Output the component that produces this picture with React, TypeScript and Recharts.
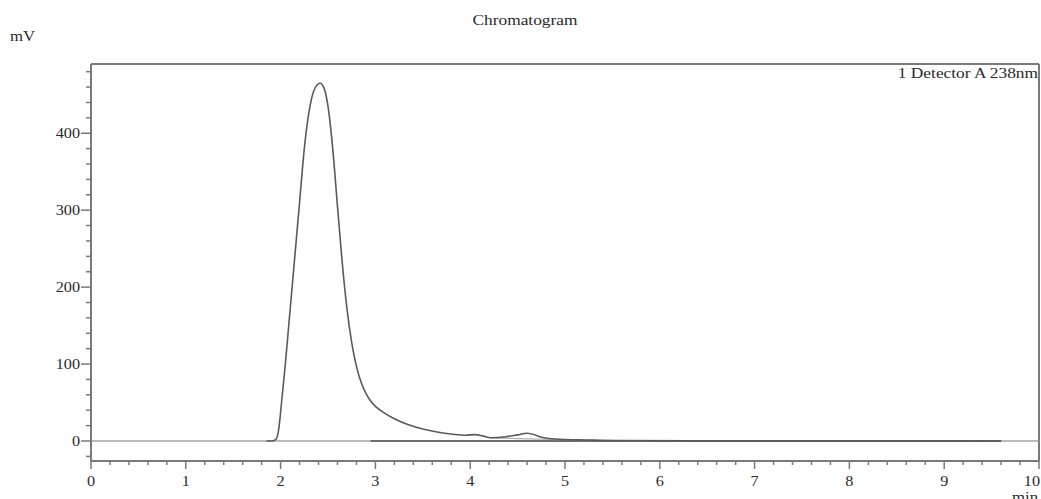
import React from "react";
import { Customized, Line, LineChart, ReferenceLine, XAxis, YAxis } from "recharts";

// Chromatogram trace (detector A, 238 nm): retention time in min, signal in mV.
const TIME = [
  1.85, 1.92, 1.95, 1.98, 2.01, 2.05, 2.1, 2.15, 2.2, 2.25, 2.3, 2.35, 2.415,
  2.46, 2.5, 2.55, 2.6, 2.65, 2.7, 2.75, 2.8, 2.85, 2.9, 2.95, 3.0, 3.1, 3.2,
  3.35, 3.5, 3.68, 3.82, 3.95, 4.05, 4.15, 4.21, 4.38, 4.5, 4.6, 4.68, 4.74,
  4.95, 5.23, 5.58, 6.5, 9.6,
];
const SIGNAL = [
  0, 0.3, 2, 15, 50, 100, 170, 240, 310, 380, 428, 455, 465,
  458, 435, 380, 305, 232, 172, 128, 97, 76, 62, 52, 45, 36, 29,
  21, 15.5, 11, 8.7, 7.5, 8.3, 6, 4.3, 5.6, 8, 10, 8, 5.2,
  2.2, 1.3, 0.5, 0.2, 0,
];

// Integration baselines drawn under the peaks.
const BASE_TIME = [2.95, 9.6];
const BASE_SIGNAL = [0, 0];
const PEAK2_BASE_TIME = [4.21, 4.95];
const PEAK2_BASE_SIGNAL = [4.0, 1.8];

const X_LABELS = [0, 1, 2, 3, 4, 5, 6, 7, 8, 9, 10];
const X_TICKS = Array.from({ length: 51 }, (_, i) => +(i * 0.2).toFixed(1));
const Y_LABELS = [0, 100, 200, 300, 400];
const Y_TICKS = Array.from({ length: 26 }, (_, i) => -20 + i * 20);

const X_DOMAIN: [number, number] = [0, 10];
const Y_DOMAIN: [number, number] = [-26, 490];

const trace = TIME.map((t, i) => ({ t, mv: SIGNAL[i] }));
const baseline = BASE_TIME.map((t, i) => ({ t, mv: BASE_SIGNAL[i] }));
const peak2Base = PEAK2_BASE_TIME.map((t, i) => ({ t, mv: PEAK2_BASE_SIGNAL[i] }));

const FONT = '"Liberation Serif", "Times New Roman", serif';
const INK = "#2a2a2a";
const AXIS = "#7a7a7a";
const STRETCH = 1.12;

function SerifText({
  x,
  y,
  size,
  anchor = "start",
  children,
}: {
  x: number;
  y: number;
  size: number;
  anchor?: "start" | "middle" | "end";
  children: React.ReactNode;
}) {
  return (
    <text
      transform={`translate(${x} ${y}) scale(${STRETCH} 1)`}
      fontFamily={FONT}
      fontSize={size}
      textAnchor={anchor}
      fill={INK}
    >
      {children}
    </text>
  );
}

function XTick(props: any) {
  const { x, y, payload } = props;
  const v = payload.value as number;
  const major = X_LABELS.some((m) => Math.abs(m - v) < 1e-6);
  // the last label is pulled inside the page edge, as in the original print
  const last = Math.abs(v - X_DOMAIN[1]) < 1e-6;
  return (
    <g>
      <line x1={x} x2={x} y1={y} y2={y + (major ? 8 : 4)} stroke={AXIS} strokeWidth={1.5} />
      {major && (
        <SerifText x={last ? x + 1 : x} y={y + 25} size={14.5} anchor={last ? "end" : "middle"}>
          {Math.round(v)}
        </SerifText>
      )}
    </g>
  );
}

function YTick(props: any) {
  const { x, y, payload } = props;
  const v = payload.value as number;
  const major = Y_LABELS.includes(v);
  return (
    <g>
      <line x1={x - (major ? 10 : 5)} x2={x} y1={y} y2={y} stroke={AXIS} strokeWidth={1.5} />
      {major && (
        <SerifText x={x - 11} y={y + 5} size={14.5} anchor="end">
          {v}
        </SerifText>
      )}
    </g>
  );
}

function Labels() {
  return (
    <g>
      <SerifText x={525} y={25} size={15.5} anchor="middle">
        Chromatogram
      </SerifText>
      <SerifText x={10} y={41} size={15}>
        mV
      </SerifText>
      <SerifText x={1038} y={78} size={15.5} anchor="end">
        1 Detector A 238nm
      </SerifText>
      <SerifText x={1012} y={502} size={15}>
        min
      </SerifText>
    </g>
  );
}

export default function App() {
  return (
    <div style={{ position: "absolute", left: 0, top: 0, width: 1041, height: 499, background: "#fff" }}>
      <LineChart width={1041} height={499} margin={{ top: 64, right: 2, bottom: 0, left: 0 }}>
        <XAxis
          dataKey="t"
          type="number"
          domain={X_DOMAIN}
          ticks={X_TICKS}
          interval={0}
          height={38}
          tickSize={0}
          tickMargin={0}
          tickLine={false}
          tick={<XTick />}
          axisLine={{ stroke: AXIS, strokeWidth: 2 }}
          allowDataOverflow
        />
        <YAxis
          dataKey="mv"
          type="number"
          domain={Y_DOMAIN}
          ticks={Y_TICKS}
          interval={0}
          width={91}
          tickSize={0}
          tickMargin={0}
          tickLine={false}
          tick={<YTick />}
          axisLine={{ stroke: AXIS, strokeWidth: 2 }}
          allowDataOverflow
        />
        <ReferenceLine y={Y_DOMAIN[1]} stroke={AXIS} strokeWidth={2} />
        <ReferenceLine x={X_DOMAIN[1]} stroke={AXIS} strokeWidth={2} />
        <ReferenceLine y={0} stroke="#a5a5a5" strokeWidth={1.5} />
        <Line
          data={baseline}
          dataKey="mv"
          type="linear"
          stroke="#555"
          strokeWidth={1.5}
          dot={false}
          isAnimationActive={false}
        />
        <Line
          data={peak2Base}
          dataKey="mv"
          type="linear"
          stroke="#b0b0b0"
          strokeWidth={1.2}
          dot={false}
          isAnimationActive={false}
        />
        <Line
          data={trace}
          dataKey="mv"
          type="monotone"
          stroke="#5a5a5a"
          strokeWidth={1.6}
          dot={false}
          isAnimationActive={false}
        />
        <Customized component={Labels} />
      </LineChart>
    </div>
  );
}
